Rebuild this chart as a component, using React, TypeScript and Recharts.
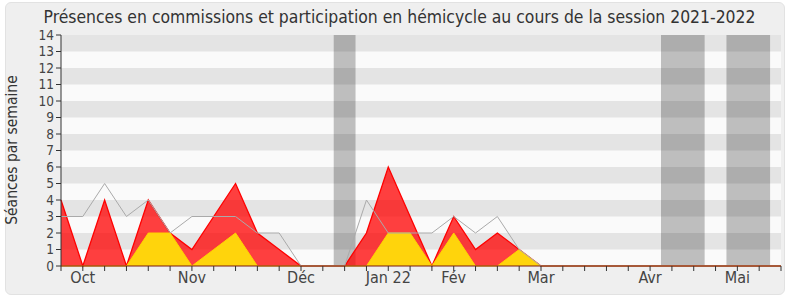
import React from 'react';
import { ComposedChart, Area, Line, XAxis, YAxis, ReferenceArea } from 'recharts';

// semaines de la session (index 0 = fin septembre)
const weeks = Array.from({ length: 34 }, (_, i) => i);
const presences = [4, 0, 4, 0, 4, 2, 1, 3, 5, 2, 1, 0, 0, 0, 2, 6, 3, 0, 3, 1, 2, 1, 0, 0, 0, 0, 0, 0, 0, 0, 0, 0, 0, 0];
const hemicycle = [0, 0, 0, 0, 2, 2, 0, 1, 2, 0, 0, 0, 0, 0, 0, 2, 2, 0, 2, 0, 0, 1, 0, 0, 0, 0, 0, 0, 0, 0, 0, 0, 0, 0];
const mediane = [3, 3, 5, 3, 4, 2, 3, 3, 3, 2, 2, 0, 0, 0, 4, 2, 2, 2, 3, 2, 3, 1, 0, 0, 0, 0, 0, 0, 0, 0, 0, 0, 0, 0];

const monthTicks = [1, 6, 11, 15, 18, 22, 27, 31];
const monthNames = ['Oct', 'Nov', 'Déc', 'Jan 22', 'Fév', 'Mar', 'Avr', 'Mai'];

const vacances = [[12.5, 13.5], [27.5, 29.5], [30.5, 32.5]];
const stripes = [1, 3, 5, 7, 9, 11, 13];
const yTicks = Array.from({ length: 15 }, (_, i) => i);

const data = weeks.map((w, i) => ({
  w,
  presences: presences[i],
  hemicycle: hemicycle[i],
  mediane: mediane[i],
}));

const FONT = "'DejaVu Sans Condensed', 'DejaVu Sans', sans-serif";

function monthLabel(v: number) {
  const idx = monthTicks.indexOf(v);
  return idx >= 0 ? monthNames[idx] : '';
}

export default function App() {
  return (
    <div style={{ position: 'absolute', left: 0, top: 0, width: 790, height: 300, background: '#fff', fontFamily: FONT }}>
      <div
        style={{
          position: 'absolute', left: 5, top: 2, width: 778, height: 291,
          background: '#efefef', border: '1px solid #e2e2e2', borderRadius: 6,
        }}
      />
      <div style={{ position: 'absolute', left: 0, top: 6, width: 799, textAlign: 'center', fontSize: 17.4, color: '#333', lineHeight: '22px', whiteSpace: 'nowrap' }}>
        Présences en commissions et participation en hémicycle au cours de la session 2021-2022
      </div>
      <div style={{ position: 'absolute', left: 12, top: 150, width: 0, height: 0 }}>
        <div style={{ position: 'absolute', left: -100, top: -10, width: 200, textAlign: 'center', fontSize: 15.5, color: '#333', lineHeight: '20px', transform: 'rotate(-90deg)', whiteSpace: 'nowrap' }}>
          Séances par semaine
        </div>
      </div>
      <div style={{ position: 'absolute', left: 0, top: 0 }}>
        <ComposedChart width={790} height={300} data={data} margin={{ top: 35, right: 9, bottom: 0, left: 0 }}>
          <XAxis
            dataKey="w"
            type="number"
            domain={[0, 33]}
            ticks={weeks}
            interval={0}
            tickFormatter={monthLabel}
            height={34}
            tickSize={5}
            tickMargin={1}
            stroke="#333"
            axisLine={{ stroke: '#7a1a10' }}
            tick={{ fontSize: 16, fill: '#444', fontFamily: FONT }}
          />
          <XAxis
            xAxisId="top"
            dataKey="w"
            type="number"
            orientation="top"
            domain={[0, 33]}
            ticks={weeks}
            interval={0}
            height={0}
            mirror
            tickSize={2}
            axisLine={false}
            stroke="#333"
            tickFormatter={() => ''}
          />
          <YAxis
            type="number"
            domain={[0, 14]}
            ticks={yTicks}
            interval={0}
            width={61}
            tickSize={5}
            tickMargin={2}
            stroke="#333"
            tick={{ fontSize: 13.5, fill: '#444', fontFamily: FONT }}
          />
          <ReferenceArea x1={0} x2={33} y1={0} y2={14} fill="#fafafa" fillOpacity={1} stroke="none" ifOverflow="visible" />
          {vacances.map(([a, b]) => (
            <ReferenceArea key={'v' + a} x1={a} x2={b} y1={0} y2={14} fill="#bebebe" fillOpacity={1} stroke="none" />
          ))}
          {stripes.map((s) => (
            <ReferenceArea key={'s' + s} x1={0} x2={33} y1={s} y2={s + 1} fill="#000" fillOpacity={0.085} stroke="none" />
          ))}
          <Line type="linear" dataKey="mediane" stroke="#aaaaaa" strokeWidth={1} dot={false} isAnimationActive={false} />
          <Area type="linear" dataKey="presences" stroke="#ff0000" strokeWidth={1.3} fill="#ff0000" fillOpacity={0.75} isAnimationActive={false} />
          <Area type="linear" dataKey="hemicycle" stroke="#ffd400" strokeWidth={1} fill="#ffd40c" fillOpacity={1} isAnimationActive={false} />
        </ComposedChart>
      </div>
    </div>
  );
}
